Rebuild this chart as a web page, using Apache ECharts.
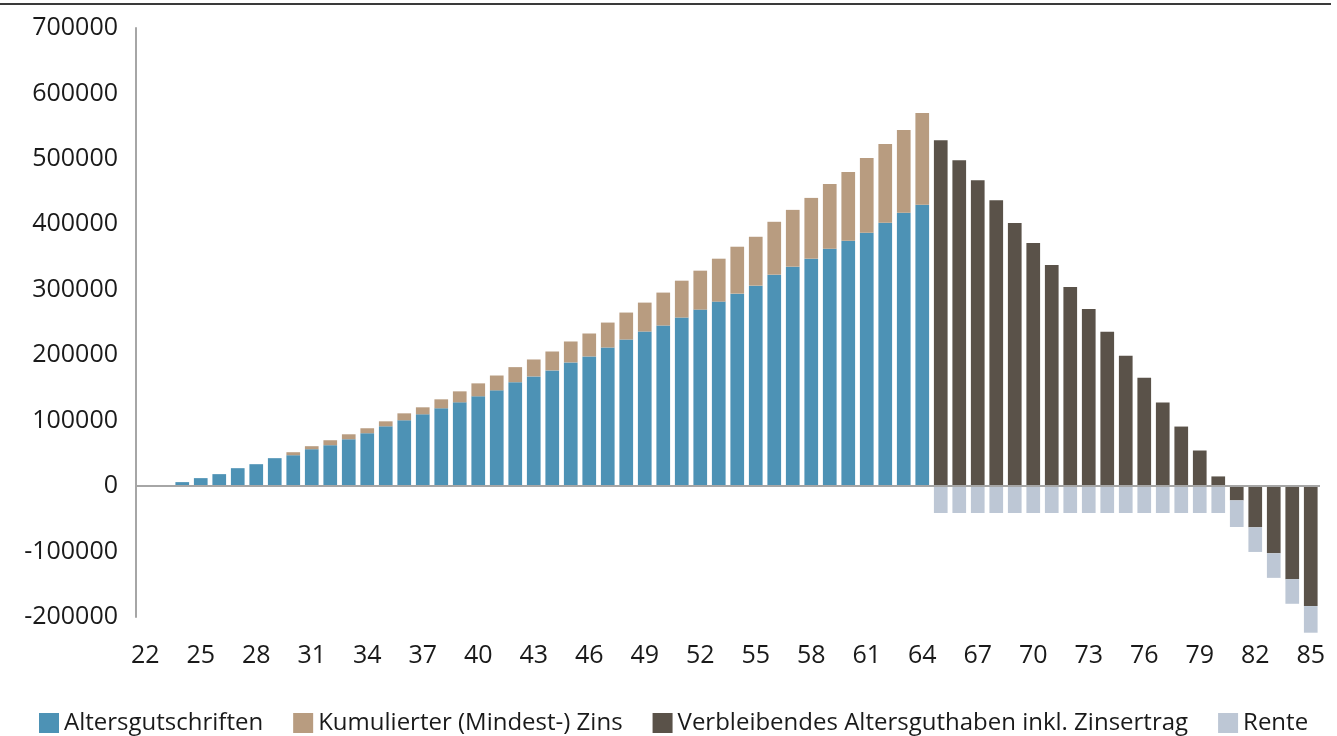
<!DOCTYPE html>
<html>
<head>
<meta charset="utf-8">
<script src="https://cdn.jsdelivr.net/npm/echarts@6/dist/echarts.min.js"></script>
<style>
html,body{margin:0;padding:0;background:#fff;}
#chart{width:1337px;height:736px;}
</style>
</head>
<body>
<div id="chart"></div>
<script>
// Ages (categories)
const ages = [];
for (let a = 22; a <= 85; a++) ages.push(String(a));

// Altersgutschriften (blue), ages 22..64
const altersgutschriften = [
  null, null, 6100, 12200, 18300, 27400, 33500, 42700, 47200, 56400,
  62500, 71600, 80800, 91400, 100600, 109700, 118900, 128000, 137200, 146300,
  158800, 167600, 176800, 189000, 198100, 211800, 224000, 236200, 245400, 257600,
  269700, 281900, 294100, 306300, 323100, 335300, 347500, 362700, 374900, 387100,
  402300, 417600, 429800
];

// Kumulierter (Mindest-) Zins (tan), ages 22..64
const zins = [
  null, null, null, null, null, null, null, null, 4600, 4600,
  7600, 7600, 7600, 7600, 10600, 10700, 13700, 16800, 19800, 22700,
  23000, 25900, 28900, 32000, 35100, 38100, 41200, 44200, 50300, 56300,
  59500, 65600, 71700, 74700, 80800, 86800, 92900, 99100, 105100, 114300,
  120400, 126500, 140200
];

// Verbleibendes Altersguthaben inkl. Zinsertrag (dark), ages 65..85
const verbleibend = [
  528400, 497900, 467400, 436900, 401900, 371400, 337900, 304300, 270800, 235800,
  199200, 165700, 127600, 91000, 54400, 14800, -21800, -62900, -102600, -142200,
  -183300
];

// Rente (light), ages 65..85
const rente = [
  -41100, -41100, -41100, -41100, -41100, -41100, -41100, -41100, -41100, -41100,
  -41100, -41100, -41100, -41100, -41100, -41100, -40700, -37700, -37600, -37600,
  -40700
];

const yTicks = [-200000, 700000, 100000]; // min, max, interval

const n = ages.length;
function padFront(arr){ const out = new Array(n).fill(null); for (let i=0;i<arr.length;i++) out[i]=arr[i]; return out; }
function padBack(arr){ const out = new Array(n).fill(null); const off = n - arr.length; for (let i=0;i<arr.length;i++) out[off+i]=arr[i]; return out; }

const font = '"Open Sans", "Noto Sans", sans-serif';
const chart = echarts.init(document.getElementById('chart'), null, {renderer:'canvas'});

const barCommon = { type:'bar', stack:'total', barCategoryGap:'26%', clip:false, animation:false };

chart.setOption({
  animation:false,
  backgroundColor:'#ffffff',
  textStyle:{fontFamily:font},
  grid:{left:136, right:17, top:28, bottom:119, containLabel:false},
  graphic:[{
    type:'line', shape:{x1:0,y1:4,x2:1331,y2:4},
    style:{stroke:'#3a3a3a', lineWidth:2}, silent:true
  }],
  legend:{
    left:34, top:706, padding:[5,5,0,5],
    icon:'rect', itemWidth:20, itemHeight:20, itemGap:30,
    textStyle:{fontSize:24, color:'#1a1a1a', fontFamily:font},
    data:['Altersgutschriften','Kumulierter (Mindest-) Zins','Verbleibendes Altersguthaben inkl. Zinsertrag','Rente']
  },
  xAxis:{
    type:'category', data:ages,
    axisLine:{show:false, onZero:false},
    axisTick:{show:false},
    axisLabel:{interval:2, fontSize:25, color:'#1a1a1a', margin:26, fontFamily:font},
    splitLine:{show:false}
  },
  yAxis:{
    type:'value', min:yTicks[0], max:yTicks[1], interval:yTicks[2],
    axisLine:{show:true, lineStyle:{color:'#a6a6a6', width:2}},
    axisTick:{show:false},
    splitLine:{show:false},
    axisLabel:{fontSize:25, color:'#1a1a1a', margin:18, fontFamily:font, formatter:v=>String(v)}
  },
  series:[
    Object.assign({}, barCommon, {
      name:'Altersgutschriften', data:padFront(altersgutschriften), itemStyle:{color:'#4D92B5'},
      markLine:{silent:true, symbol:'none', label:{show:false}, animation:false,
        lineStyle:{color:'#a6a6a6', width:2, type:'solid'}, data:[{yAxis:0}]}
    }),
    Object.assign({}, barCommon, {name:'Kumulierter (Mindest-) Zins', data:padFront(zins), itemStyle:{color:'#B89C80'}}),
    Object.assign({}, barCommon, {name:'Verbleibendes Altersguthaben inkl. Zinsertrag', data:padBack(verbleibend), itemStyle:{color:'#5A5249'}}),
    Object.assign({}, barCommon, {name:'Rente', data:padBack(rente), itemStyle:{color:'#BDC7D5'}})
  ]
});
</script>
</body>
</html>
